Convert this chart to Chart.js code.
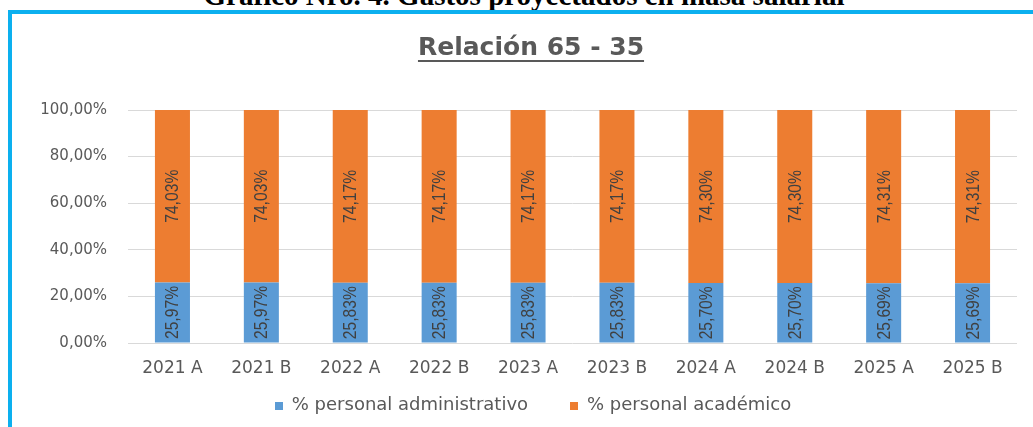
<!DOCTYPE html>
<html>
<head>
<meta charset="utf-8">
<script src="https://cdn.jsdelivr.net/npm/chart.js@4.4.1/dist/chart.umd.min.js"></script>
<style>
  html, body { margin:0; padding:0; background:#fff; width:1033px; height:427px; overflow:hidden; }
  #wrap { position:relative; width:1033px; height:427px; overflow:hidden; }
  #doctitle { position:absolute; left:0; width:1048px; top:-20px; height:30px; line-height:30px; text-align:center;
    font-family:"Liberation Serif","Times New Roman",serif; font-weight:bold; font-size:29px; color:#000; white-space:nowrap; }
  #frame { position:absolute; left:8px; top:10px; right:-10px; bottom:-10px;
    border-top:4px solid #0CB0EF; border-left:4px solid #0CB0EF; }
  canvas { position:absolute; left:0; top:0; }
</style>
</head>
<body>
<div id="wrap">
  <div id="doctitle">Gráfico Nro. 4. Gastos proyectados en masa salarial</div>
  <div id="frame"></div>
  <canvas id="c" width="1033" height="427"></canvas>
</div>
<script>
const chartTitle = "Relación 65 - 35";
const categories = ["2021 A","2021 B","2022 A","2022 B","2023 A","2023 B","2024 A","2024 B","2025 A","2025 B"];
const administrativo = [25.97,25.97,25.83,25.83,25.83,25.83,25.70,25.70,25.69,25.69];
const academico = [74.03,74.03,74.17,74.17,74.17,74.17,74.30,74.30,74.31,74.31];
const seriesNames = ["% personal administrativo","% personal académico"];
const seriesColors = ["#5B9BD5","#ED7D31"];
const yTicks = [0,20,40,60,80,100];

const fmt = (v, d) => v.toFixed(d).replace('.', ',') + '%';

const titlePlugin = {
  id: 'ulTitle',
  afterDraw(chart) {
    const ctx = chart.ctx;
    ctx.save();
    ctx.font = 'bold 25px "DejaVu Sans", sans-serif';
    ctx.fillStyle = '#595959';
    ctx.textAlign = 'center';
    ctx.textBaseline = 'alphabetic';
    const x = 531, y = 55;
    ctx.fillText(chartTitle, x, y);
    const w = ctx.measureText(chartTitle).width;
    ctx.strokeStyle = '#595959';
    ctx.lineWidth = 2;
    ctx.beginPath();
    ctx.moveTo(x - w/2, y + 6);
    ctx.lineTo(x + w/2, y + 6);
    ctx.stroke();
    ctx.restore();
  }
};

const legendPlugin = {
  id: 'customLegend',
  afterDraw(chart) {
    const ctx = chart.ctx;
    ctx.save();
    ctx.font = '18px "DejaVu Sans", sans-serif';
    ctx.textBaseline = 'middle';
    ctx.textAlign = 'left';
    const box = 8, gapText = 9, gapItem = 42, cy = 405, cx = 533;
    const items = chart.data.datasets.map(ds => ({ text: ds.label, color: ds.backgroundColor,
      w: box + gapText + ctx.measureText(ds.label).width }));
    const total = items.reduce((s, it) => s + it.w, 0) + gapItem * (items.length - 1);
    let x = cx - total / 2;
    items.forEach(it => {
      ctx.fillStyle = it.color;
      ctx.fillRect(Math.round(x), cy - box/2 + 1, box, box);
      ctx.fillStyle = '#595959';
      ctx.fillText(it.text, x + box + gapText, cy);
      x += it.w + gapItem;
    });
    ctx.restore();
  }
};

const labelPlugin = {
  id: 'barLabels',
  afterDatasetsDraw(chart) {
    const ctx = chart.ctx;
    ctx.save();
    ctx.font = '18px "Liberation Sans", Arial, sans-serif';
    ctx.fillStyle = '#404040';
    ctx.textAlign = 'center';
    ctx.textBaseline = 'middle';
    chart.data.datasets.forEach((ds, di) => {
      const meta = chart.getDatasetMeta(di);
      meta.data.forEach((el, i) => {
        const p = el.getProps(['x','y','base'], true);
        const cy = (p.y + p.base) / 2;
        ctx.save();
        ctx.translate(p.x + 1, cy);
        ctx.rotate(-Math.PI/2);
        ctx.scale(0.87, 1);
        ctx.fillText(fmt(ds.data[i], 2), 0, 0);
        ctx.restore();
      });
    });
    ctx.restore();
  }
};

new Chart(document.getElementById('c'), {
  type: 'bar',
  data: {
    labels: categories,
    datasets: [
      { label: seriesNames[0], data: administrativo, backgroundColor: seriesColors[0], borderWidth: 0 },
      { label: seriesNames[1], data: academico, backgroundColor: seriesColors[1], borderWidth: 0 }
    ]
  },
  options: {
    responsive: false,
    animation: false,
    devicePixelRatio: 1,
    layout: { padding: { left: 30, right: 16, top: 110, bottom: 41 } },
    datasets: { bar: { categoryPercentage: 1, barPercentage: 0.394 } },
    scales: {
      x: {
        stacked: true,
        grid: { display: false, drawTicks: false },
        border: { display: false },
        afterFit(scale) { scale.height = 43; },
        ticks: { color: '#595959', font: { family: '"DejaVu Sans", sans-serif', size: 17 }, padding: 15, maxRotation: 0, autoSkip: false }
      },
      y: {
        stacked: true,
        min: 0, max: 100,
        afterBuildTicks(axis) { axis.ticks = yTicks.map(v => ({ value: v })); },
        afterFit(scale) { scale.width = 98; },
        grid: { color: '#D9D9D9', lineWidth: 1, drawTicks: false },
        border: { display: false },
        ticks: { color: '#595959', font: { family: '"DejaVu Sans", sans-serif', size: 15 }, padding: 21,
          callback: v => fmt(v, 2) }
      }
    },
    plugins: {
      legend: { display: false },
      tooltip: { enabled: false }
    }
  },
  plugins: [titlePlugin, labelPlugin, legendPlugin]
});
</script>
</body>
</html>
